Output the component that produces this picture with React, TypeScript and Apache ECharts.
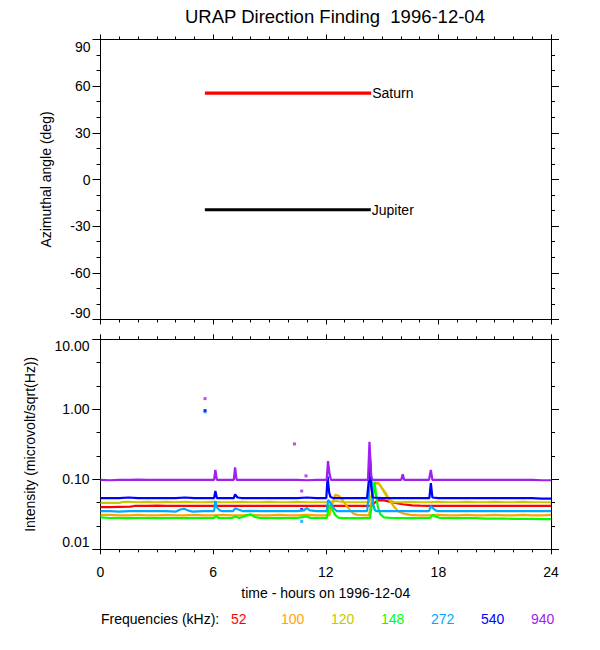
import { useEffect, useRef } from 'react';
import * as echarts from 'echarts';

const TITLE = 'URAP Direction Finding  1996-12-04';
const X_TITLE = 'time - hours on 1996-12-04';
const Y1_TITLE = 'Azimuthal angle (deg)';
const Y2_TITLE = 'Intensity (microvolt/sqrt(Hz))';
const LEGEND_TITLE = 'Frequencies (kHz):';
const FREQS = ['52', '100', '120', '148', '272', '540', '940'];
const COLORS = ['#ff0000', '#ffa500', '#c8c800', '#00ff00', '#00a8ff', '#0000ff', '#a020f0'];

// Direction finding (hour, azimuth deg)
const saturn = [[5.56, 55.5], [14.42, 55.5]];
const jupiter = [[5.56, -19.5], [14.4, -19.5]];

// Intensity traces (hour, microvolt/sqrt(Hz))
const f52 = [
  [0, 0.040], [0.5, 0.040], [1, 0.0405], [1.6, 0.0408], [1.8, 0.0416], [2.5, 0.0416], [3, 0.042], [3.5, 0.0416],
  [4, 0.0416], [4.5, 0.0418], [5, 0.0416], [5.5, 0.0416], [6, 0.0416], [6.5, 0.0418], [7, 0.0416], [7.5, 0.0416],
  [8, 0.0416], [8.5, 0.0418], [9, 0.0416], [9.5, 0.0416], [10, 0.0416], [10.5, 0.0416], [11, 0.0418], [11.5, 0.0416],
  [12, 0.0416], [12.5, 0.0418], [13, 0.0416], [13.5, 0.0416], [14, 0.0416], [14.4, 0.0416], [14.6, 0.046],
  [14.8, 0.0505], [15.1, 0.050], [15.4, 0.048], [15.7, 0.046], [16.1, 0.044], [16.6, 0.0425], [17, 0.042],
  [17.5, 0.0418], [18, 0.0416], [18.5, 0.0418], [19, 0.0416], [19.5, 0.0416], [20, 0.0418], [20.5, 0.0416],
  [21, 0.0416], [21.5, 0.0418], [22, 0.0416], [22.5, 0.0416], [23, 0.0418], [23.5, 0.0416], [24, 0.0416],
];
const f100 = [
  [0, 0.031], [0.5, 0.031], [1, 0.0305], [1.5, 0.0305], [2, 0.031], [2.5, 0.0305], [3, 0.0305], [3.5, 0.031],
  [4, 0.0305], [4.5, 0.0305], [5, 0.031], [5.5, 0.0305], [6, 0.0305], [6.5, 0.031], [7, 0.0305], [7.5, 0.0305],
  [8, 0.031], [8.5, 0.0305], [9, 0.0305], [9.5, 0.031], [10, 0.0305], [10.5, 0.0305], [11, 0.031], [11.5, 0.0305],
  [12.2, 0.0305], [12.35, 0.045], [12.5, 0.060], [12.7, 0.058], [12.9, 0.050], [13.1, 0.042], [13.3, 0.036],
  [13.5, 0.032], [13.7, 0.031], [14.3, 0.0305], [14.45, 0.050], [14.6, 0.090], [14.8, 0.090], [15.0, 0.075],
  [15.2, 0.063], [15.4, 0.050], [15.6, 0.042], [15.85, 0.035], [16.2, 0.032], [16.5, 0.031], [17, 0.0305],
  [17.5, 0.0305], [18, 0.031], [18.5, 0.0305], [19, 0.0305], [19.5, 0.031], [20, 0.0305], [20.5, 0.0305],
  [21, 0.031], [21.5, 0.0305], [22, 0.0305], [22.5, 0.031], [23, 0.0305], [23.5, 0.0305], [24, 0.031],
];
const f120 = [
  [0, 0.046], [0.5, 0.046], [1, 0.046], [1.2, 0.0475], [1.5, 0.0475], [2, 0.047], [2.5, 0.0475], [3, 0.047],
  [3.5, 0.0475], [4, 0.047], [4.5, 0.0475], [5, 0.047], [5.5, 0.047], [6, 0.0475], [6.5, 0.047], [7, 0.047],
  [7.5, 0.0475], [8, 0.047], [8.5, 0.047], [9, 0.0475], [9.5, 0.047], [10, 0.047], [10.5, 0.0475], [11, 0.047],
  [11.5, 0.047], [12, 0.047], [12.4, 0.048], [12.6, 0.049], [12.9, 0.047], [13.5, 0.047], [14.3, 0.047],
  [14.45, 0.060], [14.6, 0.088], [14.85, 0.085], [15.05, 0.070], [15.25, 0.057], [15.45, 0.050], [15.65, 0.047],
  [16, 0.047], [16.5, 0.0475], [17, 0.047], [17.5, 0.047], [18, 0.0475], [18.5, 0.047], [19, 0.047],
  [19.5, 0.0475], [20, 0.047], [20.5, 0.047], [21, 0.0475], [21.5, 0.047], [22, 0.047], [22.5, 0.0475],
  [23, 0.047], [23.5, 0.047], [24, 0.047],
];
const f148 = [
  [0, 0.0285], [0.5, 0.028], [1, 0.028], [1.5, 0.0278], [2, 0.028], [2.5, 0.028], [3, 0.0278], [3.5, 0.028],
  [4, 0.028], [4.5, 0.0278], [5, 0.028], [5.5, 0.028], [6.05, 0.028], [6.15, 0.030], [6.3, 0.028], [7, 0.028],
  [7.2, 0.0295], [7.4, 0.028], [7.8, 0.0305], [8.0, 0.0315], [8.2, 0.029], [8.5, 0.028], [9, 0.028],
  [9.5, 0.0278], [10, 0.028], [10.5, 0.028], [10.95, 0.0295], [11.2, 0.028], [12.05, 0.028], [12.2, 0.043],
  [12.35, 0.037], [12.5, 0.031], [12.7, 0.028], [13, 0.0278], [13.5, 0.0278], [14.35, 0.0278], [14.5, 0.050],
  [14.6, 0.092], [14.68, 0.060], [14.78, 0.040], [14.9, 0.032], [15.1, 0.0285], [15.5, 0.028], [16, 0.028],
  [16.5, 0.0278], [17, 0.028], [17.55, 0.028], [17.7, 0.031], [17.9, 0.029], [18.1, 0.028], [18.5, 0.028],
  [19, 0.0278], [19.5, 0.028], [20, 0.028], [20.5, 0.0275], [21, 0.0275], [21.5, 0.0275], [22, 0.0272],
  [22.5, 0.0272], [23, 0.0272], [23.5, 0.027], [24, 0.027],
];
const f272 = [
  [0, 0.035], [0.5, 0.035], [1, 0.0345], [1.5, 0.035], [2, 0.035], [2.5, 0.035], [3, 0.035], [3.5, 0.035],
  [4, 0.0345], [4.25, 0.037], [4.45, 0.038], [4.65, 0.036], [4.9, 0.0345], [5.5, 0.035], [6.05, 0.035],
  [6.12, 0.049], [6.2, 0.040], [6.35, 0.036], [6.5, 0.035], [7.05, 0.035], [7.17, 0.0385], [7.35, 0.037],
  [7.6, 0.035], [8, 0.0355], [8.5, 0.035], [9, 0.035], [9.5, 0.035], [10, 0.035], [10.5, 0.035], [10.85, 0.036],
  [10.98, 0.039], [11.15, 0.036], [11.5, 0.035], [12.05, 0.035], [12.13, 0.051], [12.3, 0.044], [12.45, 0.038],
  [12.6, 0.035], [13, 0.035], [13.5, 0.035], [14.2, 0.035], [14.3, 0.060], [14.37, 0.179], [14.45, 0.090],
  [14.52, 0.045], [14.62, 0.036], [14.75, 0.035], [15, 0.035], [15.5, 0.035], [16, 0.035], [16.5, 0.035],
  [17, 0.035], [17.5, 0.035], [17.6, 0.0416], [17.7, 0.039], [17.85, 0.036], [18, 0.035], [18.5, 0.035],
  [19, 0.035], [19.5, 0.035], [20, 0.035], [20.5, 0.035], [21, 0.035], [21.5, 0.035], [22, 0.035],
  [22.5, 0.035], [23, 0.035], [23.5, 0.035], [24, 0.035],
];
const f540 = [
  [0, 0.054], [0.5, 0.054], [1, 0.054], [1.5, 0.055], [2, 0.054], [2.5, 0.054], [3, 0.054], [3.5, 0.054],
  [4, 0.054], [4.5, 0.055], [5, 0.054], [5.5, 0.054], [6.05, 0.054], [6.12, 0.068], [6.2, 0.054], [6.5, 0.054],
  [7.1, 0.054], [7.17, 0.061], [7.3, 0.055], [7.5, 0.054], [8, 0.054], [8.5, 0.054], [9, 0.054], [9.5, 0.054],
  [10, 0.054], [10.5, 0.054], [11, 0.055], [11.5, 0.054], [12.03, 0.054], [12.1, 0.110], [12.18, 0.065],
  [12.25, 0.056], [12.4, 0.054], [13, 0.054], [13.5, 0.054], [14.2, 0.054], [14.3, 0.100], [14.35, 0.220],
  [14.42, 0.080], [14.5, 0.055], [15, 0.054], [15.5, 0.054], [16, 0.054], [16.5, 0.054], [17, 0.054],
  [17.52, 0.054], [17.6, 0.088], [17.68, 0.055], [18, 0.054], [18.5, 0.054], [19, 0.054], [19.5, 0.054],
  [20, 0.054], [20.5, 0.054], [21, 0.054], [21.5, 0.054], [22, 0.054], [22.5, 0.054], [23, 0.054],
  [23.5, 0.053], [24, 0.053],
];
const f940 = [
  [0, 0.098], [0.5, 0.097], [1, 0.098], [1.5, 0.098], [2, 0.099], [2.5, 0.098], [3, 0.098], [3.5, 0.098],
  [4, 0.098], [4.5, 0.098], [5, 0.098], [5.5, 0.098], [6.05, 0.098], [6.12, 0.136], [6.2, 0.098], [6.5, 0.098],
  [7.1, 0.098], [7.17, 0.148], [7.25, 0.098], [7.5, 0.098], [8, 0.098], [8.5, 0.098], [9, 0.098], [9.5, 0.098],
  [10, 0.098], [10.5, 0.098], [11, 0.097], [11.5, 0.098], [12.05, 0.098], [12.12, 0.182], [12.2, 0.120],
  [12.28, 0.098], [12.5, 0.098], [13, 0.098], [13.5, 0.098], [14.25, 0.098], [14.33, 0.344], [14.42, 0.110],
  [14.5, 0.098], [15, 0.098], [15.5, 0.098], [16.02, 0.098], [16.1, 0.118], [16.18, 0.098], [16.5, 0.098],
  [17, 0.098], [17.5, 0.098], [17.6, 0.136], [17.68, 0.098], [18, 0.098], [18.5, 0.098], [19, 0.098],
  [19.5, 0.098], [20, 0.098], [20.5, 0.098], [21, 0.098], [21.5, 0.098], [22, 0.098], [22.5, 0.098],
  [23, 0.098], [23.5, 0.097], [24, 0.097],
];
const TRACES = [f52, f100, f120, f148, f272, f540, f940];

// Isolated samples
const dots272 = [[5.57, 0.92], [10.72, 0.025]];
const dots540 = [[5.57, 0.96], [10.72, 0.037]];
const dots940 = [[5.57, 1.42], [10.33, 0.32], [10.72, 0.068], [10.95, 0.112]];

const FONT = 'Liberation Sans, Arial, Helvetica, sans-serif';
const BLACK = '#000000';

function App() {
  const ref = useRef<HTMLDivElement>(null);
  useEffect(() => {
    if (!ref.current) return;
    const chart = echarts.init(ref.current, null, { renderer: 'svg' });

    const line = { lineStyle: { color: BLACK, width: 1 }, onZero: false };
    const xCommon = (gridIndex: number, position: string, labels: boolean) => ({
      type: 'value',
      gridIndex,
      position,
      min: 0,
      max: 24,
      interval: 6,
      axisLine: line,
      axisTick: { show: true, length: 5, lineStyle: { color: BLACK } },
      minorTick: { show: true, splitNumber: 6, length: 3, lineStyle: { color: BLACK } },
      splitLine: { show: false },
      axisLabel: { show: labels, color: BLACK, fontSize: 14, fontFamily: FONT, margin: 16 },
    });

    const yAngle = (position: string, labels: boolean) => ({
      type: 'value',
      gridIndex: 0,
      position,
      min: -90,
      max: 90,
      interval: 30,
      axisLine: line,
      axisTick: { show: true, length: 8, lineStyle: { color: BLACK } },
      minorTick: { show: true, splitNumber: 3, length: 4, lineStyle: { color: BLACK } },
      splitLine: { show: false },
      axisLabel: {
        show: labels, color: BLACK, fontSize: 14, fontFamily: FONT, margin: 10,
        verticalAlignMaxLabel: 'top', verticalAlignMinLabel: 'bottom',
      },
      name: labels ? Y1_TITLE : '',
      nameLocation: 'middle',
      nameRotate: 90,
      nameGap: 48,
      nameTextStyle: { color: BLACK, fontSize: 14, fontFamily: FONT },
    });

    const yLog = (position: string, labels: boolean) => ({
      type: 'log',
      logBase: 10,
      gridIndex: 1,
      position,
      min: 0.01,
      max: 10,
      axisLine: line,
      axisTick: { show: true, length: 8, lineStyle: { color: BLACK } },
      minorTick: { show: false },
      splitLine: { show: false },
      axisLabel: {
        show: labels, color: BLACK, fontSize: 14, fontFamily: FONT, margin: 11,
        formatter: (v: number) => v.toFixed(2),
        verticalAlignMaxLabel: 'top', verticalAlignMinLabel: 'bottom',
      },
      name: labels ? Y2_TITLE : '',
      nameLocation: 'middle',
      nameRotate: 90,
      nameGap: 64,
      nameTextStyle: { color: BLACK, fontSize: 14, fontFamily: FONT },
    });

    // helper axes: ticks every third of a decade (exponent space)
    const yThirds = (position: string) => ({
      type: 'value',
      gridIndex: 1,
      position,
      min: -2,
      max: 1,
      interval: 1,
      axisLine: { show: false, onZero: false },
      axisTick: { show: true, length: 8, lineStyle: { color: BLACK } },
      minorTick: { show: true, splitNumber: 3, length: 4, lineStyle: { color: BLACK } },
      splitLine: { show: false },
      axisLabel: { show: false },
    });

    const series: any[] = [
      {
        type: 'line', name: 'Saturn', xAxisIndex: 0, yAxisIndex: 0, data: saturn,
        symbol: 'none', lineStyle: { color: '#ff0000', width: 3.4 },
        endLabel: { show: true, formatter: 'Saturn', color: BLACK, fontSize: 14, fontFamily: FONT, distance: 1 },
      },
      {
        type: 'line', name: 'Jupiter', xAxisIndex: 0, yAxisIndex: 0, data: jupiter,
        symbol: 'none', lineStyle: { color: BLACK, width: 3 },
        endLabel: { show: true, formatter: 'Jupiter', color: BLACK, fontSize: 14, fontFamily: FONT, distance: 1 },
      },
    ];
    TRACES.forEach((d, i) => {
      series.push({
        type: 'line', name: FREQS[i], xAxisIndex: 2, yAxisIndex: 2, data: d,
        symbol: 'none', lineStyle: { color: COLORS[i], width: 2.2 },
      });
    });
    const dotSets: [number[][], number][] = [[dots272, 4], [dots540, 5], [dots940, 6]];
    dotSets.forEach(([d, ci]) => {
      series.push({
        type: 'scatter', name: FREQS[ci] + ' samples', xAxisIndex: 2, yAxisIndex: 2, data: d,
        symbol: 'rect', symbolSize: [3, 3], itemStyle: { color: COLORS[ci] },
      });
    });

    const legendTexts: any[] = [
      { type: 'text', left: 101, top: 612, style: { text: LEGEND_TITLE, fill: BLACK, font: `14px ${FONT}` } },
    ];
    FREQS.forEach((f, i) => {
      legendTexts.push({
        type: 'text', left: 231 + 50 * i, top: 612,
        style: { text: f, fill: COLORS[i], font: `14px ${FONT}` },
      });
    });

    chart.setOption({
      animation: false,
      backgroundColor: '#ffffff',
      textStyle: { fontFamily: FONT, color: BLACK },
      title: {
        text: TITLE,
        left: 180,
        top: 2,
        textStyle: { color: BLACK, fontSize: 18.5, fontWeight: 'normal', fontFamily: FONT },
      },
      grid: [
        { left: 100.5, top: 39.5, width: 450.5, height: 280 },
        { left: 100.5, top: 339.3, width: 450.5, height: 210 },
      ],
      xAxis: [
        xCommon(0, 'bottom', false),
        xCommon(0, 'top', false),
        {
          ...xCommon(1, 'bottom', true),
          name: X_TITLE,
          nameLocation: 'middle',
          nameGap: 37,
          nameTextStyle: { color: BLACK, fontSize: 14, fontFamily: FONT },
        },
        xCommon(1, 'top', false),
      ],
      yAxis: [
        yAngle('left', true),
        yAngle('right', false),
        yLog('left', true),
        yLog('right', false),
        yThirds('left'),
        yThirds('right'),
      ],
      series,
      graphic: legendTexts,
    });
    return () => chart.dispose();
  }, []);
  return <div ref={ref} style={{ position: 'absolute', left: 0, top: 0, width: 600, height: 650 }} />;
}

export default App;
